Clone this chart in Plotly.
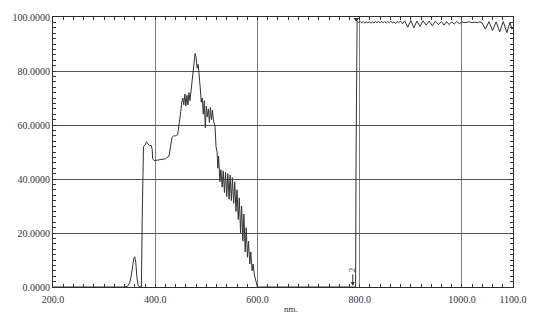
import plotly.graph_objects as go

# ---- data (wavelength nm, transmittance %) ----
wavelength_nm = [
    200, 300, 340, 346, 350, 353, 356, 358, 360, 362, 364, 366, 368, 371, 373,
    374.5, 375.5, 377, 380, 383, 386, 389, 392, 394, 395, 398, 405, 412, 420, 427,
    430, 433, 436, 440, 444, 447, 450, 452, 454, 456, 458, 460, 462, 464, 466, 468,
    470, 472, 474, 476, 478, 480, 482, 484, 486, 488, 490, 492, 494, 496, 498, 500,
    502, 504, 506, 508, 510, 512, 514, 517, 519, 521, 522.5, 524, 526.5, 528.5, 531,
    533, 535.5, 537.5, 540, 542, 544.5, 546.5, 549, 551, 553.5, 555.5, 558, 560,
    562.5, 564.5, 567, 569, 571.5, 573.5, 576, 578, 580.5, 582.5, 585, 587, 589.5,
    591.5, 594, 597, 600, 700, 792, 793, 794,
    795, 798, 801, 804, 807, 810, 813, 816, 819, 822, 825, 828, 831, 834, 837, 840,
    843, 846, 849, 852, 855, 858, 861, 864, 867, 870, 873, 876, 880, 884, 888,
    894, 900, 906, 912, 918, 924, 930, 936, 942, 948, 954, 960,
    965, 970, 975, 980, 985, 990, 995, 1000, 1004,
    1010, 1015, 1020, 1025, 1030, 1035, 1039,
    1046, 1053, 1060, 1067, 1074, 1081, 1088, 1094, 1098, 1100,
]
transmittance = [
    0, 0, 0, 0.3, 1.5, 4, 8, 10.5, 11.2, 9, 4, 1, 0.2, 0, 0,
    25, 50, 52, 52.5, 53.8, 53, 52.3, 52.5, 51, 47.5, 46.8, 47, 47.2, 47.5, 48.5,
    53, 55.5, 56, 56, 56.5, 60, 65, 68.5, 70, 67.5, 71.5, 67, 71, 67.5, 72, 69,
    73, 76, 80, 84, 86.5, 85, 81, 82.5, 76, 74, 68.5, 70, 64, 69, 59, 67,
    63, 66, 61, 66.5, 62, 65.5, 61.5, 59.5, 52, 50, 44, 48.5, 39, 43.5, 37,
    43, 35, 42.5, 33.5, 42, 32.5, 41.5, 32, 40.5, 31, 39, 28, 36,
    25, 33, 20, 30, 17, 27, 13, 22, 11, 17, 8.5, 13, 6,
    8.5, 4.5, 2, 0, 0, 0, 50, 98.5,
    98.5, 98, 98.4, 97.8, 98.3, 97.7, 98.2, 97.8, 98.3, 97.7, 98.2, 97.8, 98.3, 97.9, 98.4, 97.8,
    98.3, 97.9, 98.3, 97.8, 98.3, 97.9, 98.4, 97.8, 98.2, 97.6, 98.3, 97.9, 98.5, 97.5, 98.6,
    96.2, 98.7, 96.0, 98.5, 96.5, 98.6, 97.0, 98.5, 96.8, 98.4, 97.2, 98.3,
    97.0, 98.3, 97.2, 98.2, 97.4, 98.3, 97.5, 98.2, 97.9,
    98.0, 98.2, 97.9, 98.1, 97.9, 98.2, 98.0,
    95.5, 98.3, 95.0, 98.2, 94.5, 98.3, 94.2, 98.0, 95.5, 96.0,
]

x_tick_values = [200, 400, 600, 800, 1000, 1100]
x_tick_labels = ["200.0", "400.0", "600.0", "800.0", "1000.0", "1100.0"]
y_tick_values = [0, 20, 40, 60, 80, 100]
y_tick_labels = ["0.0000", "20.0000", "40.0000", "60.0000", "80.0000", "100.0000"]

marker_peak_nm = [786.5]
marker_top_nm = [793.5]
marker_top_val = [99.2]

FONT = "Liberation Serif"

fig = go.Figure()
fig.add_trace(go.Scatter(
    x=wavelength_nm, y=transmittance, mode="lines",
    line=dict(color="#333333", width=1), hoverinfo="skip", showlegend=False,
))
fig.add_trace(go.Scatter(
    x=marker_top_nm, y=marker_top_val, mode="markers",
    marker=dict(symbol="triangle-down", size=5, color="#333"),
    hoverinfo="skip", showlegend=False,
))

fig.update_layout(
    width=559, height=318,
    margin=dict(l=53, r=46, t=17, b=31),
    paper_bgcolor="white", plot_bgcolor="white",
    font=dict(family=FONT, size=10, color="#333"),
    xaxis=dict(
        range=[200, 1100], tickvals=x_tick_values, ticktext=x_tick_labels,
        showgrid=True, gridcolor="#808080", gridwidth=1,
        showline=True, linecolor="#2a332a", linewidth=1.2, mirror="allticks",
        ticks="inside", ticklen=3, tickcolor="#333", zeroline=False,
        ticklabelstandoff=3,
        minor=dict(dtick=20, tick0=200, ticks="inside", ticklen=3, tickcolor="#333", showgrid=False),
        tickfont=dict(family=FONT, size=10, color="#333"),
    ),
    yaxis=dict(
        range=[0, 100], tickvals=y_tick_values, ticktext=y_tick_labels,
        showgrid=True, gridcolor="#505068", gridwidth=1,
        showline=True, linecolor="#333", linewidth=1.2, mirror="allticks",
        ticks="inside", ticklen=3, tickcolor="#333", zeroline=False,
        minor=dict(dtick=2, tick0=0, ticks="inside", ticklen=3, tickcolor="#333", showgrid=False),
        tickfont=dict(family=FONT, size=10, color="#333"),
    ),
    annotations=[
        dict(x=0.498, y=-0.08, xref="paper", yref="paper", text="nm.",
             showarrow=False, font=dict(family=FONT, size=9, color="#333"),
             xanchor="left", yanchor="middle"),
        dict(x=marker_peak_nm[0], y=6.5, text="2", textangle=-90, showarrow=False,
             font=dict(family=FONT, size=9, color="#333")),
        dict(x=marker_peak_nm[0], y=0.4, ax=0, ay=-13, text="", showarrow=True,
             arrowhead=2, arrowsize=0.8, arrowwidth=1, arrowcolor="#333"),
    ],
)

fig.write_html("out.html")
